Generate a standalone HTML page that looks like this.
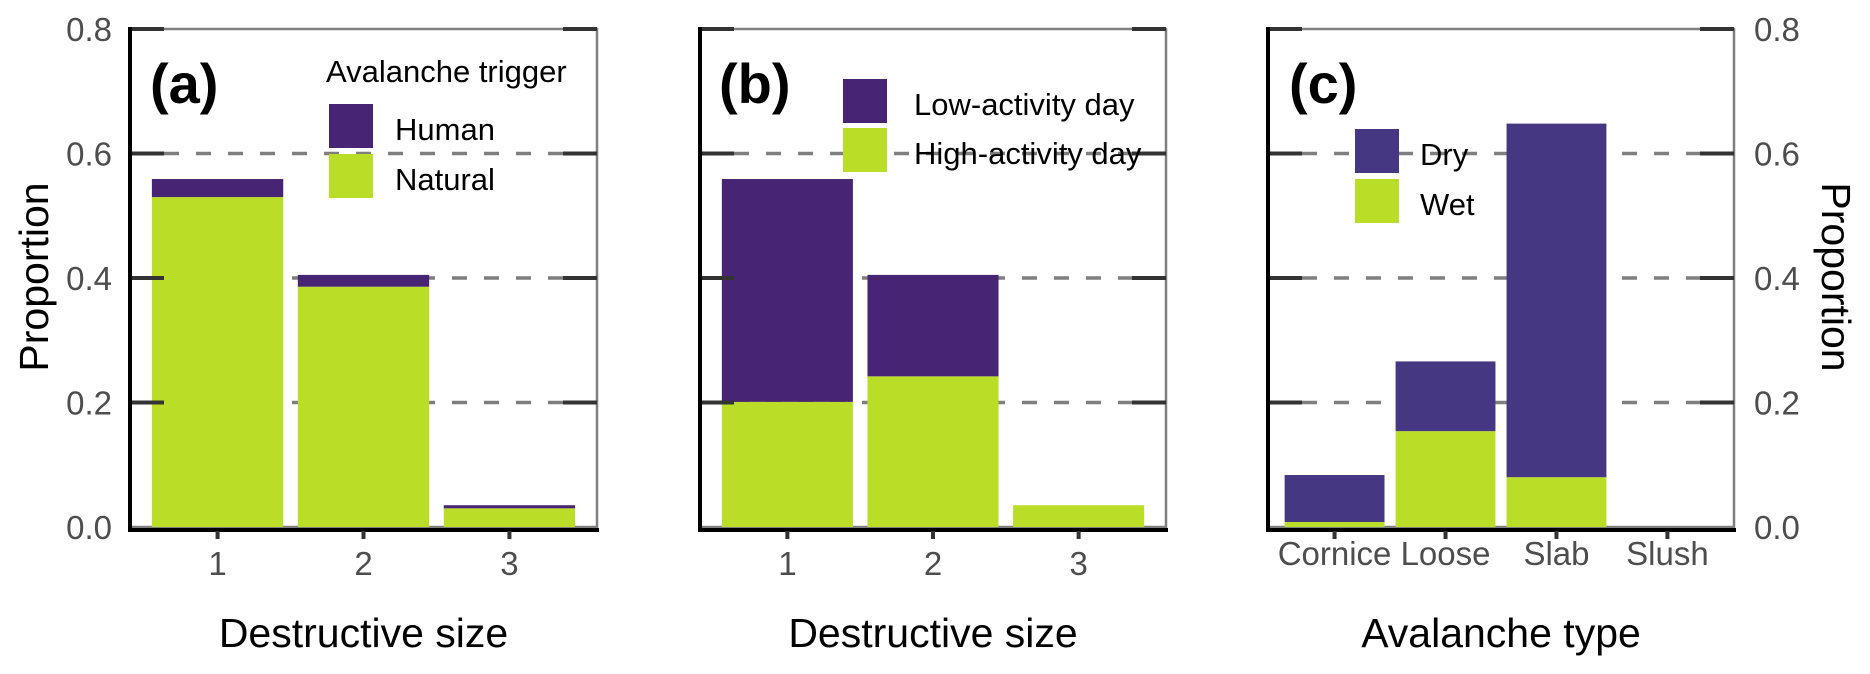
<!DOCTYPE html>
<html><head><meta charset="utf-8"><style>
html,body{margin:0;padding:0;background:#fff;}
svg{display:block;font-family:"Liberation Sans",sans-serif;}
</style></head><body>
<svg id="chart" width="1870" height="674" viewBox="0 0 1870 674" xmlns="http://www.w3.org/2000/svg"></svg>
<script>
// ---- data ----
const catsA = ["1","2","3"];
const humanA = [0.029, 0.019, 0.005];
const naturalA = [0.530, 0.386, 0.030];
const catsB = ["1","2","3"];
const lowB = [0.358, 0.163, 0.0];
const highB = [0.201, 0.242, 0.035];
const catsC = ["Cornice","Loose","Slab","Slush"];
const dryC = [0.0755, 0.112, 0.568, 0.0];
const wetC = [0.008, 0.154, 0.080, 0.0];
const yTicks = [0, 0.2, 0.4, 0.6, 0.8];
const yTickLabels = ["0.0","0.2","0.4","0.6","0.8"];

const NS = "http://www.w3.org/2000/svg";
const svg = document.getElementById("chart");
function mk(tag, attrs, parent){const e=document.createElementNS(NS,tag);for(const k in attrs)e.setAttribute(k,attrs[k]);(parent||svg).appendChild(e);return e;}
const Y0=527, YTOP=29;
function y(v){return Y0 - v*(Y0-YTOP)/0.8;}
const PURPLE_AB="#482475", PURPLE_C="#453781", GREEN="#bade28";
const TICKFS=33;

function panel(opts){
  const g=mk("g",{});
  
  
  const L=opts.x0, R=opts.x1, n=opts.cats.length;
  const unit=(R-L)/(n-1+1.2);
  function x(i){return L+unit*(0.6+i);}
  const b=mk("rect",{x:L,y:YTOP,width:R-L,height:Y0-YTOP,fill:"none",stroke:"#7f7f7f","stroke-width":2.5},g);
  
  
  [0.2,0.4,0.6].forEach(v=>{
    const gl=mk("line",{x1:L+34,x2:R-34,y1:y(v),y2:y(v),stroke:"#7f7f7f","stroke-width":3.5,"stroke-dasharray":"15 17"},g);
    
    
  });
  for(let i=0;i<n;i++){
    const cx=x(i), w=unit*0.9;
    const lo=opts.bottom[i], hi=opts.top[i];
    if(lo>0){const r=mk("rect",{x:cx-w/2,y:y(lo),width:w,height:Y0-y(lo),fill:GREEN},g);
      
      }
    if(hi>0){const r=mk("rect",{x:cx-w/2,y:y(lo+hi),width:w,height:y(lo)-y(lo+hi),fill:opts.purple},g);
      
      }
  }
  yTicks.forEach(v=>{
    if(v===0)return;
    [[L,L+34],[R-34,R]].forEach(p=>{
      const t=mk("line",{x1:p[0],x2:p[1],y1:y(v),y2:y(v),stroke:"#333","stroke-width":4},g);
      
      
    });
  });
  const al=mk("line",{x1:L,x2:L,y1:YTOP-2,y2:Y0+3,stroke:"#000","stroke-width":4},g);
   
  if(opts.rightAxis){const ar=mk("line",{x1:R,x2:R,y1:YTOP-2,y2:Y0+3,stroke:"#000","stroke-width":4},g);
     }
  const ab=mk("line",{x1:L-2,x2:R+2,y1:Y0+3,y2:Y0+3,stroke:"#000","stroke-width":4},g);
   
  for(let i=0;i<n;i++){
    const t=mk("line",{x1:x(i),x2:x(i),y1:Y0+4,y2:Y0+12,stroke:"#333","stroke-width":4},g);
     
    const tl=mk("text",{x:x(i),y:opts.xLabelY,"text-anchor":"middle","font-size":TICKFS,fill:"#4d4d4d"},g);
    tl.textContent=opts.cats[i];
     
  }
  const xt=mk("text",{x:(L+R)/2,y:647,"text-anchor":"middle","font-size":41,fill:"#000"},g);
  xt.textContent=opts.xTitle;
   
  const pl=mk("text",{x:opts.labX,y:103,"font-size":56,"font-weight":"bold",fill:"#000"},g);
  pl.textContent=opts.label;
   
  const lg=mk("g",{},g);
   
  if(opts.legTitle){const lt=mk("text",{x:opts.legTitleX,y:82,"font-size":31,fill:"#000"},lg);
    lt.textContent=opts.legTitle;  }
  [[opts.purple,opts.legLabels[0],opts.legY[0]],[GREEN,opts.legLabels[1],opts.legY[1]]].forEach(e=>{
    const k=mk("rect",{x:opts.legX,y:e[2],width:44,height:44,fill:e[0]},lg);
     
    const lt=mk("text",{x:opts.legX+opts.legGap,y:e[2]+36,"font-size":31,fill:"#000"},lg);
    lt.textContent=e[1];  
  });
}

panel({name:"panel-a",x0:130,x1:597,cats:catsA,bottom:naturalA,top:humanA,bottomKey:"natural",topKey:"human",purple:PURPLE_AB,
  xTitle:"Destructive size",xLabelY:575,label:"(a)",labX:150,legTitle:"Avalanche trigger",legTitleX:326,
  legLabels:["Human","Natural"],legX:329,legGap:66,legY:[104,154]});
panel({name:"panel-b",x0:700,x1:1166,cats:catsB,bottom:highB,top:lowB,bottomKey:"high",topKey:"low",purple:PURPLE_AB,
  xTitle:"Destructive size",xLabelY:575,label:"(b)",labX:719,legTitle:null,
  legLabels:["Low-activity day","High-activity day"],legX:843,legGap:71,legY:[79,128]});
panel({name:"panel-c",x0:1268,x1:1734,cats:catsC,bottom:wetC,top:dryC,bottomKey:"wet",topKey:"dry",purple:PURPLE_C,
  xTitle:"Avalanche type",xLabelY:565,label:"(c)",labX:1289,legTitle:null,
  legLabels:["Dry","Wet"],legX:1355,legGap:65,legY:[129,179]});

yTicks.forEach((v,i)=>{
  const a=mk("text",{x:112,y:y(v)+12,"text-anchor":"end","font-size":TICKFS,fill:"#4d4d4d"});
  a.textContent=yTickLabels[i];
   
  const b=mk("text",{x:1754,y:y(v)+12,"text-anchor":"start","font-size":TICKFS,fill:"#4d4d4d"});
  b.textContent=yTickLabels[i];
   
});
const yl=mk("text",{x:0,y:0,"text-anchor":"middle","font-size":41,fill:"#000",transform:"translate(48,277) rotate(-90)"});
yl.textContent="Proportion";
 
const yr=mk("text",{x:0,y:0,"text-anchor":"middle","font-size":41,fill:"#000",transform:"translate(1822,277) rotate(90)"});
yr.textContent="Proportion";
 
</script>
</body></html>
